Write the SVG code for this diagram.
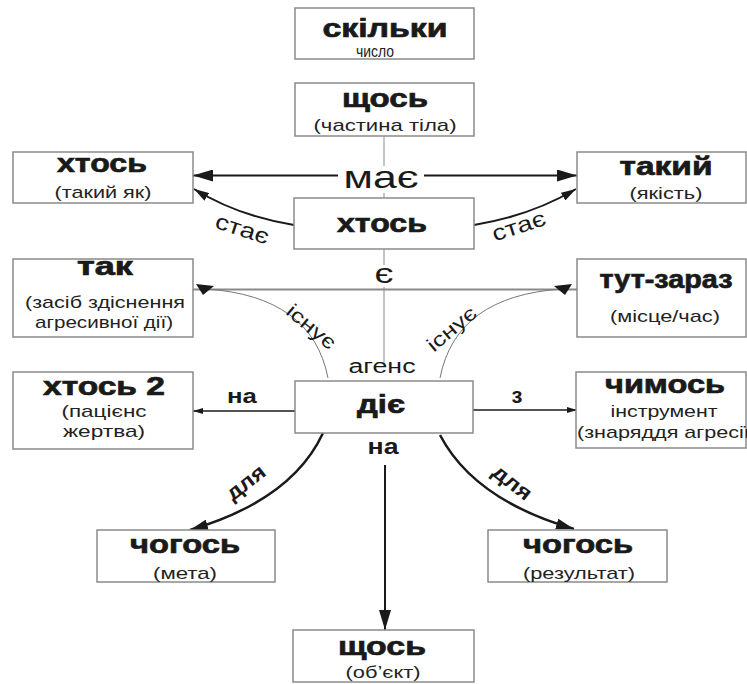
<svg xmlns="http://www.w3.org/2000/svg" width="747" height="684" viewBox="0 0 747 684">
<style>
.box{fill:#fff;stroke:#8a8a8a;stroke-width:1.5}
.t{font-family:"Liberation Sans",Arial,sans-serif;font-weight:bold;font-size:26px;fill:#1a1a1a;stroke:#1a1a1a;stroke-width:0.7;text-anchor:middle}
.s{font-family:"Liberation Sans",Arial,sans-serif;font-size:17px;fill:#222;text-anchor:middle}
.lbl{font-family:"Liberation Sans",Arial,sans-serif;fill:#1a1a1a;text-anchor:middle}
.blk{fill:none;stroke:#1a1a1a}
.gry{fill:none;stroke:#8a8a8a}
</style>
<defs>
<marker id="ahBig" markerUnits="userSpaceOnUse" markerWidth="20" markerHeight="12" viewBox="0 0 20 12" refX="20" refY="6" orient="auto"><path d="M0,0 L20,6 L0,12 z" fill="#1a1a1a"/></marker>
<marker id="ahMid" markerUnits="userSpaceOnUse" markerWidth="15" markerHeight="9" viewBox="0 0 15 9" refX="15" refY="4.5" orient="auto"><path d="M0,0 L15,4.5 L0,9 z" fill="#1a1a1a"/></marker>
<marker id="ahSmall" markerUnits="userSpaceOnUse" markerWidth="10" markerHeight="6" viewBox="0 0 10 6" refX="10" refY="3" orient="auto"><path d="M0,0 L10,3 L0,6 z" fill="#1a1a1a"/></marker>
<marker id="ahFor" markerUnits="userSpaceOnUse" markerWidth="18" markerHeight="11" viewBox="0 0 18 11" refX="18" refY="5.5" orient="auto"><path d="M0,0 L18,5.5 L0,11 z" fill="#1a1a1a"/></marker>
</defs>
<rect width="747" height="684" fill="#fff"/>

<g id="connectors">
  <line class="gry" x1="384" y1="136" x2="384" y2="198" stroke="#9a9a9a" stroke-width="1"/>
  <line class="gry" x1="384" y1="249" x2="384" y2="364" stroke="#b0b0b0" stroke-width="1"/>
  <line class="blk" x1="384" y1="175.5" x2="193" y2="175.5" stroke-width="2" marker-end="url(#ahBig)"/>
  <line class="blk" x1="384" y1="175.5" x2="577" y2="175.5" stroke-width="2" marker-end="url(#ahBig)"/>
  <path class="blk" d="M294,225 Q238,216 194,189" stroke-width="2" marker-end="url(#ahMid)"/>
  <path class="blk" d="M474,225 Q530,216 576,189" stroke-width="2" marker-end="url(#ahMid)"/>
  <line class="gry" x1="193" y1="289.5" x2="577" y2="289.5" stroke-width="1.8"/>
  <path d="M328,378 Q312,296 206,289" fill="none" stroke="#777" stroke-width="1"/>
  <path d="M440,378 Q456,296 562,289" fill="none" stroke="#777" stroke-width="1"/>
  <polygon points="196,284 214,286 203,295" fill="#1a1a1a"/>
  <polygon points="572,284 554,286 565,295" fill="#1a1a1a"/>
  <line class="blk" x1="295" y1="411" x2="193" y2="411" stroke-width="1.5" marker-end="url(#ahSmall)"/>
  <line class="blk" x1="473" y1="410" x2="577" y2="410" stroke-width="1.5" marker-end="url(#ahSmall)"/>
  <path class="blk" d="M323,433 Q292,500 190,530" stroke-width="2.5" marker-end="url(#ahFor)"/>
  <path class="blk" d="M440,435 Q474,500 574,529" stroke-width="2.5" marker-end="url(#ahFor)"/>
  <line class="blk" x1="385" y1="465" x2="385" y2="630" stroke-width="2" marker-end="url(#ahBig)"/>
</g>

<g id="edge-labels">
  <rect x="338" y="166" width="86" height="27" fill="#fff"/>
  <text class="lbl" x="381" y="188" font-size="32" textLength="75" lengthAdjust="spacingAndGlyphs">має</text>
  <rect x="374" y="265" width="22" height="22" fill="#fff"/>
  <text class="lbl" x="384" y="283" font-size="28" textLength="19" lengthAdjust="spacingAndGlyphs">є</text>
  <text class="lbl" x="382" y="373" font-size="20" textLength="67" lengthAdjust="spacingAndGlyphs">агенс</text>
  <text class="lbl" transform="translate(240,236) rotate(18)" font-size="22" textLength="55" lengthAdjust="spacingAndGlyphs">стає</text>
  <text class="lbl" transform="translate(521,233) rotate(-18)" font-size="22" textLength="55" lengthAdjust="spacingAndGlyphs">стає</text>
  <text class="lbl" transform="translate(307,332) rotate(40)" font-size="20" textLength="58" lengthAdjust="spacingAndGlyphs">існує</text>
  <text class="lbl" transform="translate(456,334) rotate(-40)" font-size="20" textLength="58" lengthAdjust="spacingAndGlyphs">існує</text>
  <text class="lbl" x="242" y="403" font-size="21" font-weight="bold" textLength="30" lengthAdjust="spacingAndGlyphs">на</text>
  <text class="lbl" x="517" y="403" font-size="22" font-weight="bold">з</text>
  <text class="lbl" x="383" y="454" font-size="22" font-weight="bold" textLength="31" lengthAdjust="spacingAndGlyphs">на</text>
  <text class="lbl" transform="translate(250,488) rotate(-38)" font-size="21" font-weight="bold" textLength="44" lengthAdjust="spacingAndGlyphs">для</text>
  <text class="lbl" transform="translate(508,488) rotate(38)" font-size="21" font-weight="bold" textLength="44" lengthAdjust="spacingAndGlyphs">для</text>
</g>

<g id="node-skilky">
  <rect class="box" x="295" y="8" width="179" height="51"/>
  <text class="t" x="385" y="37" textLength="125" lengthAdjust="spacingAndGlyphs">скільки</text>
  <text class="s" x="375" y="57" font-size="15" textLength="38" lengthAdjust="spacingAndGlyphs">число</text>
</g>
<g id="node-shchos-tilo">
  <rect class="box" x="295" y="83" width="179" height="53"/>
  <text class="t" x="385" y="107" textLength="86" lengthAdjust="spacingAndGlyphs">щось</text>
  <text class="s" x="385" y="131" textLength="143" lengthAdjust="spacingAndGlyphs">(частина тіла)</text>
</g>
<g id="node-khtos-center">
  <rect class="box" x="294" y="198" width="180" height="51"/>
  <text class="t" x="382" y="232" textLength="90" lengthAdjust="spacingAndGlyphs">хтось</text>
</g>
<g id="node-khtos-left">
  <rect class="box" x="13" y="152" width="180" height="51"/>
  <text class="t" x="102" y="172" textLength="90" lengthAdjust="spacingAndGlyphs">хтось</text>
  <text class="s" x="103" y="198" textLength="97" lengthAdjust="spacingAndGlyphs">(такий як)</text>
</g>
<g id="node-takyi">
  <rect class="box" x="577" y="152" width="169" height="51"/>
  <text class="t" x="666" y="175" textLength="93" lengthAdjust="spacingAndGlyphs">такий</text>
  <text class="s" x="666" y="199" textLength="73" lengthAdjust="spacingAndGlyphs">(якість)</text>
</g>
<g id="node-tak">
  <rect class="box" x="13" y="259" width="180" height="78"/>
  <text class="t" x="105" y="275" textLength="56" lengthAdjust="spacingAndGlyphs">так</text>
  <text class="s" x="105" y="308" textLength="160" lengthAdjust="spacingAndGlyphs">(засіб здіснення</text>
  <text class="s" x="104" y="328" textLength="138" lengthAdjust="spacingAndGlyphs">агресивної дії)</text>
</g>
<g id="node-tut-zaraz">
  <rect class="box" x="577" y="259" width="169" height="78"/>
  <text class="t" x="666" y="288" textLength="133" lengthAdjust="spacingAndGlyphs">тут-зараз</text>
  <text class="s" x="665" y="322" textLength="110" lengthAdjust="spacingAndGlyphs">(місце/час)</text>
</g>
<g id="node-khtos2">
  <rect class="box" x="13" y="372" width="180" height="77"/>
  <text class="t" x="104" y="395" textLength="122" lengthAdjust="spacingAndGlyphs">хтось 2</text>
  <text class="s" x="104" y="417" textLength="85" lengthAdjust="spacingAndGlyphs">(пацієнс</text>
  <text class="s" x="104" y="437" textLength="82" lengthAdjust="spacingAndGlyphs">жертва)</text>
</g>
<g id="node-die">
  <rect class="box" x="295" y="381" width="178" height="52"/>
  <text class="t" x="381" y="413" font-size="29" textLength="48" lengthAdjust="spacingAndGlyphs">діє</text>
</g>
<g id="node-chymos">
  <rect class="box" x="576" y="372" width="170" height="76"/>
  <text class="t" x="665" y="393" textLength="120" lengthAdjust="spacingAndGlyphs">чимось</text>
  <text class="s" x="664" y="417" textLength="107" lengthAdjust="spacingAndGlyphs">інструмент</text>
  <text class="s" x="667" y="438" textLength="180" lengthAdjust="spacingAndGlyphs">(знаряддя агресії)</text>
</g>
<g id="node-chogos-meta">
  <rect class="box" x="97" y="530" width="178" height="52"/>
  <text class="t" x="185" y="553" textLength="110" lengthAdjust="spacingAndGlyphs">чогось</text>
  <text class="s" x="185" y="579" textLength="64" lengthAdjust="spacingAndGlyphs">(мета)</text>
</g>
<g id="node-chogos-rezultat">
  <rect class="box" x="488" y="530" width="179" height="52"/>
  <text class="t" x="578" y="553" textLength="110" lengthAdjust="spacingAndGlyphs">чогось</text>
  <text class="s" x="579" y="579" textLength="112" lengthAdjust="spacingAndGlyphs">(результат)</text>
</g>
<g id="node-shchos-obiekt">
  <rect class="box" x="293" y="630" width="181" height="52"/>
  <text class="t" x="382" y="655" textLength="88" lengthAdjust="spacingAndGlyphs">щось</text>
  <text class="s" x="383" y="678" textLength="75" lengthAdjust="spacingAndGlyphs">(об’єкт)</text>
</g>
</svg>
